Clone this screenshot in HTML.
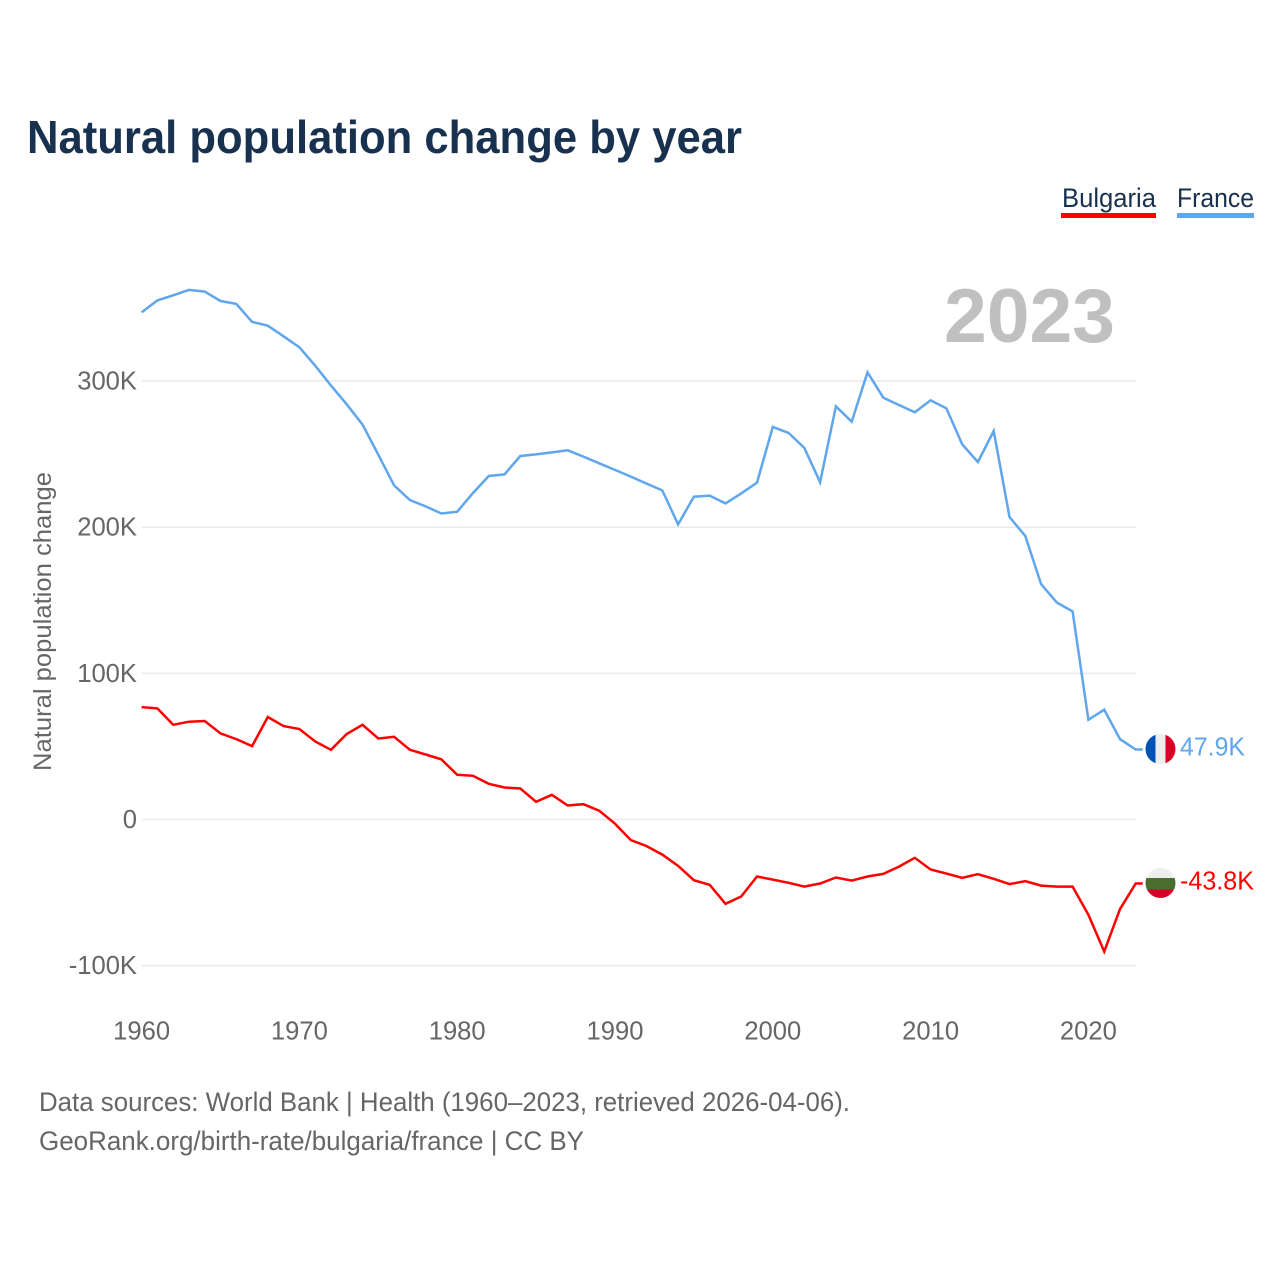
<!DOCTYPE html>
<html lang="en">
<head>
<meta charset="utf-8">
<title>Natural population change by year</title>
<style>
  html, body { margin: 0; padding: 0; background: #ffffff; }
  body { width: 1280px; height: 1280px; overflow: hidden; }
  svg { display: block; font-family: "Liberation Sans", sans-serif; }
</style>
</head>
<body>
<svg id="chart" xmlns="http://www.w3.org/2000/svg" width="1280" height="1280" viewBox="0 0 1280 1280">
  <defs>
    <clipPath id="flag-clip-fr"><circle id="clip-circle-fr" cx="1160.5" cy="749" r="15"></circle></clipPath>
    <clipPath id="flag-clip-bg"><circle id="clip-circle-bg" cx="1160.5" cy="883" r="15"></circle></clipPath>
  </defs>
  <rect x="0" y="0" width="1280" height="1280" fill="#ffffff"></rect>

  <text x="27" y="153" font-size="46" font-weight="700" fill="#17314f" textLength="715" lengthAdjust="spacingAndGlyphs">Natural population change by year</text>

  <g>
    <g>
      <text x="1062" y="207" font-size="27" fill="#17314f" textLength="94" lengthAdjust="spacingAndGlyphs">Bulgaria</text>
      <rect x="1061" y="213" width="95" height="5" fill="#ff0000"></rect>
    </g>
    <g>
      <text x="1177" y="207" font-size="27" fill="#17314f" textLength="77" lengthAdjust="spacingAndGlyphs">France</text>
      <rect x="1177" y="213" width="77" height="5" fill="#5fa6ec"></rect>
    </g>
  </g>

  <text x="944" y="342" font-size="76" font-weight="700" fill="#c0c0c0" textLength="171" lengthAdjust="spacingAndGlyphs">2023</text>

  <g id="grid"></g>
  <g id="y-ticks"></g>
  <g id="x-ticks"></g>

  <text transform="translate(51 771) rotate(-90)" font-size="25" fill="#666666" textLength="299" lengthAdjust="spacingAndGlyphs">Natural population change</text>

  <g id="series"></g>

  <g id="flag-fr" clip-path="url(#flag-clip-fr)"></g>
  <g id="flag-bg" clip-path="url(#flag-clip-bg)"></g>

  <text x="39" y="1111" font-size="27" fill="#666666" textLength="811" lengthAdjust="spacingAndGlyphs">Data sources: World Bank | Health (1960–2023, retrieved 2026-04-06).</text>
  <text x="39" y="1150" font-size="27" fill="#666666" textLength="545" lengthAdjust="spacingAndGlyphs">GeoRank.org/birth-rate/bulgaria/france | CC BY</text>
</svg>

<script>
const startYear = 1960;
const xTickYears = [1960, 1970, 1980, 1990, 2000, 2010, 2020];
const yTickValues = [-100, 0, 100, 200, 300];
const yTickLabels = ["-100K", "0", "100K", "200K", "300K"];

const franceValues = [
  347.0, 355.2, 358.7, 362.4, 361.2, 354.8, 352.8, 340.5, 337.9, 330.6,
  323.1, 310.5, 296.9, 284.1, 270.2, 249.6, 228.6, 218.6, 214.2, 209.4,
  210.6, 223.4, 235.0, 236.1, 248.7, 249.8, 251.2, 252.6, 248.3, 243.7,
  239.2, 234.6, 229.8, 225.2, 201.9, 220.9, 221.6, 216.3, 223.1, 230.5,
  268.6, 264.5, 254.2, 230.7, 282.7, 272.2, 306.0, 288.6, 283.6, 278.6,
  286.8, 281.3, 256.7, 244.6, 265.8, 207.0, 194.0, 161.1, 148.5, 142.4,
  68.2, 75.1, 55.0, 47.9
];

const bulgariaValues = [
  76.9, 76.0, 64.8, 66.9, 67.4, 58.9, 55.0, 50.2, 70.1, 63.9,
  61.9, 53.4, 47.7, 58.5, 64.8, 55.4, 56.6, 47.7, 44.5, 41.1,
  30.6, 29.9, 24.4, 21.9, 21.2, 12.1, 16.9, 9.6, 10.5, 6.0,
  -2.9, -14.1, -18.2, -24.0, -31.7, -41.5, -44.7, -57.7, -52.7, -39.0,
  -41.1, -43.3, -45.9, -43.8, -39.7, -41.8, -39.0, -37.2, -32.2, -26.2,
  -34.2, -37.0, -39.9, -37.4, -40.6, -44.2, -42.2, -45.2, -45.9, -45.9,
  -65.2, -90.3, -61.3, -43.8
];

const SVG_NS = "http://www.w3.org/2000/svg";
const xScale = function (year) { return 141.6 + (year - startYear) * 15.78; };
const yScale = function (value) { return 819.5 - value * 1.4615; };
const lastYear = startYear + franceValues.length - 1;

function make(tag, attrs, parent) {
  const el = document.createElementNS(SVG_NS, tag);
  Object.keys(attrs).forEach(function (k) { el.setAttribute(k, attrs[k]); });
  parent.appendChild(el);
  return el;
}

const gridGroup = document.getElementById("grid");
const yTickGroup = document.getElementById("y-ticks");
const xTickGroup = document.getElementById("x-ticks");
const seriesGroup = document.getElementById("series");
const chartRoot = document.getElementById("chart");

yTickValues.forEach(function (v, i) {
  const line = make("line", { x1: 142, x2: 1136, y1: yScale(v), y2: yScale(v), stroke: "#e9e9e9", "stroke-width": 1.5 }, gridGroup);
  
  
  const label = make("text", { x: 137, y: yScale(v) + 8.5, "text-anchor": "end", "font-size": 25.6, fill: "#666666" }, yTickGroup);
  
  
  label.textContent = yTickLabels[i];
});

xTickYears.forEach(function (year) {
  const label = make("text", { x: xScale(year), y: 1039.5, "text-anchor": "middle", "font-size": 25.6, fill: "#666666" }, xTickGroup);
  
  
  label.textContent = String(year);
});

function linePoints(values) {
  const pts = values.map(function (v, i) {
    return xScale(startYear + i).toFixed(1) + "," + yScale(v).toFixed(1);
  });
  const last = values[values.length - 1];
  pts.push((xScale(lastYear) + 7).toFixed(1) + "," + yScale(last).toFixed(1));
  return pts.join(" ");
}

const franceLine = make("polyline", { points: linePoints(franceValues), fill: "none", stroke: "#5fa6ec", "stroke-width": 2.5, "stroke-linejoin": "miter" }, seriesGroup);



const bulgariaLine = make("polyline", { points: linePoints(bulgariaValues), fill: "none", stroke: "#ff0000", "stroke-width": 2.5, "stroke-linejoin": "miter" }, seriesGroup);



/* Flags and end-of-line value labels follow the last data point. */
const flagX = 1160.5;
const frY = yScale(franceValues[franceValues.length - 1]) - 0.5;
const bgY = yScale(bulgariaValues[bulgariaValues.length - 1]) - 0.5;

const clipFr = document.getElementById("clip-circle-fr");
clipFr.setAttribute("cx", flagX);
clipFr.setAttribute("cy", frY);
const clipBg = document.getElementById("clip-circle-bg");
clipBg.setAttribute("cx", flagX);
clipBg.setAttribute("cy", bgY);

const flagFr = document.getElementById("flag-fr");
make("rect", { x: flagX - 15, y: frY - 15, width: 10, height: 30, fill: "#0052b4" }, flagFr);
make("rect", { x: flagX - 5, y: frY - 15, width: 10, height: 30, fill: "#eeeeee" }, flagFr);
make("rect", { x: flagX + 5, y: frY - 15, width: 10, height: 30, fill: "#d80027" }, flagFr);

const flagBg = document.getElementById("flag-bg");
make("rect", { x: flagX - 15, y: bgY - 15, width: 30, height: 10, fill: "#eeeeee" }, flagBg);
make("rect", { x: flagX - 15, y: bgY - 5, width: 30, height: 11.5, fill: "#496e2d" }, flagBg);
make("rect", { x: flagX - 15, y: bgY + 6.5, width: 30, height: 9, fill: "#d80027" }, flagBg);

function formatValue(v) { return v.toFixed(1) + "K"; }

const frLabel = make("text", { x: 1180, y: frY + 6.5, "font-size": 25.6, fill: "#5fa6ec", textLength: 65, lengthAdjust: "spacingAndGlyphs" }, chartRoot);


frLabel.textContent = formatValue(franceValues[franceValues.length - 1]);

const bgLabel = make("text", { x: 1180, y: bgY + 6.5, "font-size": 25.6, fill: "#ff0000", textLength: 74, lengthAdjust: "spacingAndGlyphs" }, chartRoot);


bgLabel.textContent = formatValue(bulgariaValues[bulgariaValues.length - 1]);
</script>
</body>
</html>
